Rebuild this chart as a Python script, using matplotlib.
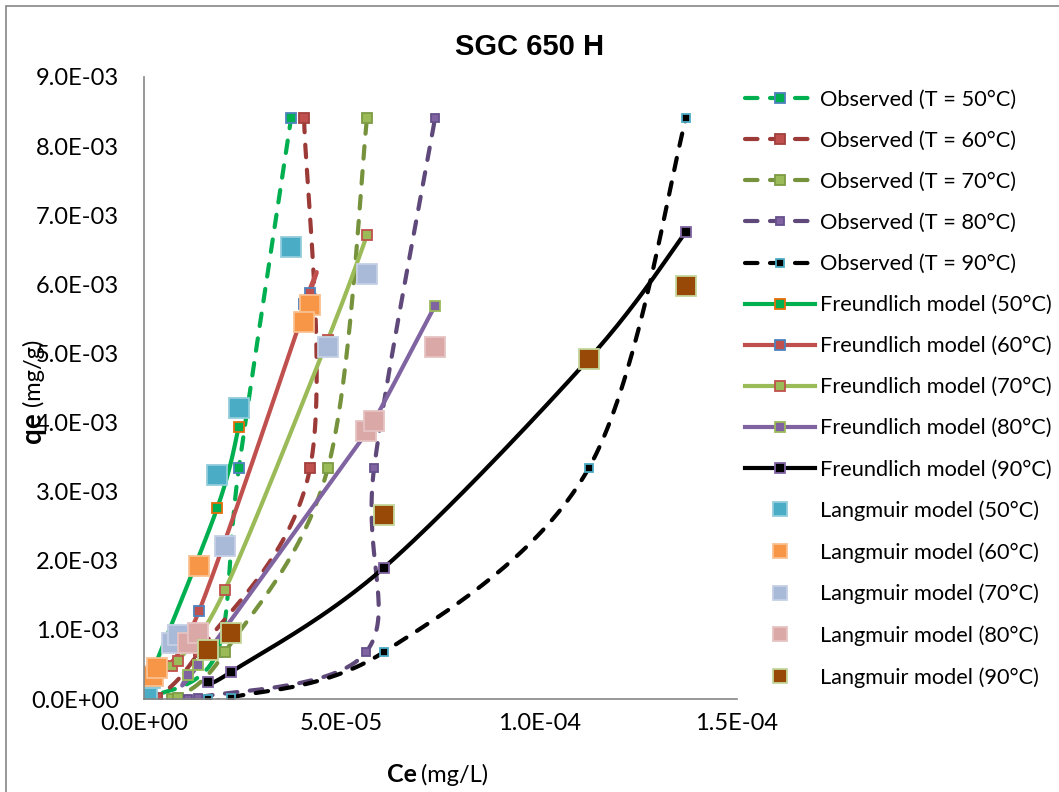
import numpy as np
import matplotlib
matplotlib.use("Agg")
import matplotlib.pyplot as plt
from matplotlib.lines import Line2D
from matplotlib.patches import Rectangle

plt.rcParams['font.family'] = ['Lato', 'DejaVu Sans']

temps = [50, 60, 70, 80, 90]

# equilibrium concentration Ce (mg/L) per temperature
ce_50 = np.array([0.08, 0.15, 1.85, 2.40, 3.72]) * 1e-5
ce_60 = np.array([0.23, 0.33, 1.39, 4.20, 4.05]) * 1e-5
ce_70 = np.array([0.71, 0.86, 2.05, 4.65, 5.64]) * 1e-5
ce_80 = np.array([1.11, 1.37, 5.62, 5.82, 7.36]) * 1e-5
ce_90 = np.array([1.62, 2.20, 6.07, 11.25, 13.71]) * 1e-5

# observed qe (mg/g)
qe_obs_50 = np.array([0.005, 0.02, 0.68, 3.34, 8.40]) * 1e-3
qe_obs_60 = np.array([0.005, 0.02, 0.68, 3.34, 8.40]) * 1e-3
qe_obs_70 = np.array([0.005, 0.02, 0.68, 3.34, 8.40]) * 1e-3
qe_obs_80 = np.array([0.005, 0.02, 0.68, 3.34, 8.40]) * 1e-3
qe_obs_90 = np.array([0.005, 0.02, 0.68, 3.34, 8.40]) * 1e-3

# Freundlich fit (last 50C value not plotted)
qe_fr_50 = np.array([0.15, 0.30, 2.76, 3.94, np.nan]) * 1e-3
qe_fr_60 = np.array([0.25, 0.35, 1.27, 5.88, 5.72]) * 1e-3
qe_fr_70 = np.array([0.48, 0.55, 1.58, 5.20, 6.71]) * 1e-3
qe_fr_80 = np.array([0.35, 0.49, 3.85, 4.02, 5.69]) * 1e-3
qe_fr_90 = np.array([0.25, 0.39, 1.90, 4.92, 6.76]) * 1e-3

# Langmuir fit
qe_la_50 = np.array([0.13, 0.30, 3.24, 4.21, 6.54]) * 1e-3
qe_la_60 = np.array([0.33, 0.45, 1.92, 5.70, 5.46]) * 1e-3
qe_la_70 = np.array([0.81, 0.93, 2.21, 5.09, 6.15]) * 1e-3
qe_la_80 = np.array([0.81, 0.95, 3.88, 4.02, 5.09]) * 1e-3
qe_la_90 = np.array([0.71, 0.955, 2.66, 4.92, 5.97]) * 1e-3

ce_all = [ce_50, ce_60, ce_70, ce_80, ce_90]
qe_obs = [qe_obs_50, qe_obs_60, qe_obs_70, qe_obs_80, qe_obs_90]
qe_fr = [qe_fr_50, qe_fr_60, qe_fr_70, qe_fr_80, qe_fr_90]
qe_la = [qe_la_50, qe_la_60, qe_la_70, qe_la_80, qe_la_90]

obs_line = ['#00B050', '#9C3A37', '#76923C', '#5F497A', '#000000']
obs_face = ['#00B050', '#C0504D', '#9BBB59', '#8064A2', '#000000']
obs_edge = ['#4F81BD', '#A3403D', '#7E9B45', '#66508A', '#4BACC6']
obs_ms = [7, 7, 7, 6, 5.5]
fr_color = ['#00B050', '#C0504D', '#9BBB59', '#8064A2', '#000000']
fr_edge = ['#E46C0A', '#4F81BD', '#C0504D', '#9BBB59', '#8064A2']
la_face = ['#4BACC6', '#F79646', '#A9B9D8', '#D9A8A7', '#984807']
la_edge = ['#92CDDC', '#FAC090', '#C5D0E6', '#E6C4C3', '#C4D79B']

XMAX, YMAX = 1.5e-4, 9e-3
DASH = (0, (3, 3))


def smooth(x, y, n=40):
    # Excel style smoothed line: cubic Bezier with Catmull-Rom control points,
    # worked out in screen-like units so both axes weigh the same
    keep = ~np.isnan(y)
    x, y = np.asarray(x)[keep], np.asarray(y)[keep]
    sx, sy = 593 / XMAX, 622 / YMAX
    p = np.column_stack([x * sx, y * sy])
    t = np.linspace(0, 1, n)[:, None]
    pts = []
    for i in range(len(p) - 1):
        p0 = p[max(i - 1, 0)]
        p3 = p[min(i + 2, len(p) - 1)]
        c1 = p[i] + (p[i + 1] - p0) / 6
        c2 = p[i + 1] - (p3 - p[i]) / 6
        seg = ((1 - t) ** 3 * p[i] + 3 * (1 - t) ** 2 * t * c1
               + 3 * (1 - t) * t ** 2 * c2 + t ** 3 * p[i + 1])
        pts.append(seg if i == 0 else seg[1:])
    pts = np.vstack(pts)
    return pts[:, 0] / sx, pts[:, 1] / sy


W, H = 1059, 792
fig = plt.figure(figsize=(W / 100, H / 100), dpi=100)
ax = fig.add_axes([144 / W, 93 / H, 593 / W, 622 / H])

handles, labels = [], []

for i, T in enumerate(temps):
    xs, ys = smooth(ce_all[i], qe_obs[i])
    ax.plot(xs, ys, color=obs_line[i], lw=3, ls=DASH, dash_capstyle='round')
    ax.plot(ce_all[i], qe_obs[i], ls='none', marker='s', ms=obs_ms[i],
            mfc=obs_face[i], mec=obs_edge[i], mew=1.3)
    handles.append(Line2D([], [], color=obs_line[i], lw=3, ls=DASH,
                          dash_capstyle='round', marker='s', ms=obs_ms[i],
                          mfc=obs_face[i], mec=obs_edge[i], mew=1.3))
    labels.append(f'Observed (T = {T}°C)')

for i, T in enumerate(temps):
    keep = ~np.isnan(qe_fr[i])
    xs, ys = smooth(ce_all[i], qe_fr[i])
    ax.plot(xs, ys, color=fr_color[i], lw=3, solid_capstyle='round')
    ax.plot(ce_all[i][keep], qe_fr[i][keep], ls='none', marker='s', ms=7.5,
            mfc=fr_color[i], mec=fr_edge[i], mew=1.3)
    handles.append(Line2D([], [], color=fr_color[i], lw=3, marker='s', ms=7.5,
                          mfc=fr_color[i], mec=fr_edge[i], mew=1.3))
    labels.append(f'Freundlich model ({T}°C)')

for i, T in enumerate(temps):
    ax.plot(ce_all[i], qe_la[i], ls='none', marker='s', ms=14,
            mfc=la_face[i], mec=la_edge[i], mew=1.3)
    handles.append(Line2D([], [], ls='none', marker='s', ms=10,
                          mfc=la_face[i], mec=la_edge[i], mew=1.3))
    labels.append(f'Langmuir model ({T}°C)')

ax.set_xlim(0, XMAX)
ax.set_ylim(0, YMAX)
ax.set_xticks([0, 5e-5, 1e-4, 1.5e-4])
ax.set_yticks(np.arange(0, 9.5e-3, 1e-3))
ax.set_xticklabels([f'{v:.1E}' for v in ax.get_xticks()])
ax.set_yticklabels([f'{v:.1E}' for v in ax.get_yticks()])
ax.tick_params(length=0, labelsize=17, pad=10)
ax.tick_params(axis='y', pad=18)
for side in ['top', 'right']:
    ax.spines[side].set_visible(False)
for side in ['left', 'bottom']:
    ax.spines[side].set_color('#868686')
    ax.spines[side].set_linewidth(1.2)
ax.patch.set_alpha(0)

fig.text(0.5, 1 - 47 / H, 'SGC 650 H', ha='center', va='center',
         fontsize=21, fontweight='bold', family='Liberation Sans')

# axis titles, bold symbol followed by unit
fig.text(417 / W, 1 - 775 / H, 'Ce', ha='right', va='center',
         fontsize=18, fontweight='bold')
fig.text(421 / W, 1 - 775 / H, '(mg/L)', ha='left', va='center', fontsize=17)
fig.text(33 / W, 1 - 412 / H, 'qe', ha='center', va='top', rotation=90,
         fontsize=20, fontweight='bold')
fig.text(33 / W, 1 - 406 / H, '(mg/g)', ha='center', va='bottom', rotation=90,
         fontsize=17)

fig.legend(handles, labels, loc='upper left',
           bbox_to_anchor=(745 / W, 1 - 90 / H), frameon=False, fontsize=15.7,
           handlelength=3.2, handletextpad=0.22, labelspacing=0.965,
           borderaxespad=0, borderpad=0, numpoints=1)

fig.patches.append(Rectangle((6 / W, -0.1), 1.2, 1.1 - 6 / H, fill=False,
                             edgecolor='#868686', lw=1.2,
                             transform=fig.transFigure))

fig.savefig('out.png', dpi=100)
